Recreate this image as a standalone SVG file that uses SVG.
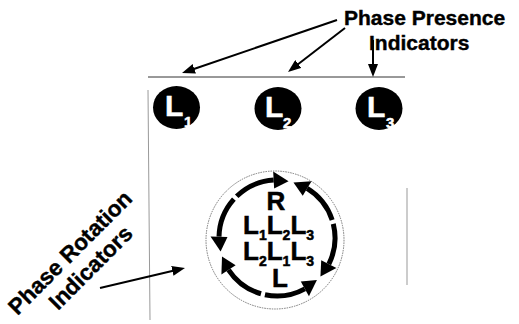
<svg xmlns="http://www.w3.org/2000/svg" width="519" height="324" viewBox="0 0 519 324">
<style>
.lbl{font-family:"Liberation Sans",Arial,sans-serif;font-weight:bold;fill:#000;stroke:#000;stroke-width:0.4}
.big{font-size:21px}
.rl{font-size:22.5px}
.ind{font-family:"Liberation Sans",Arial,sans-serif;font-weight:bold;fill:#fff;stroke:#fff;stroke-width:0.5}
.rot{font-family:"Liberation Sans",Arial,sans-serif;font-weight:bold;fill:#000;stroke:#000;stroke-width:0.5;font-size:26px}
.sub{font-size:14px}
.arr{stroke:#000;stroke-width:2;fill:none}
.arc{stroke:#000;stroke-width:5;fill:none}
.head{fill:#000}
</style>
<defs>
<marker id="ah" markerUnits="userSpaceOnUse" markerWidth="13" markerHeight="10" refX="2" refY="5" orient="auto">
<path d="M0,0 L13,5 L0,10 z" fill="#000"/>
</marker>
</defs>
<rect width="519" height="324" fill="#fff"/>
<g id="frame">
<line x1="148" y1="77" x2="405" y2="77" stroke="#333" stroke-width="1"/>
<line x1="148" y1="90" x2="150" y2="320" stroke="#999" stroke-width="1"/>
<line x1="407" y1="188" x2="407" y2="285" stroke="#999" stroke-width="1"/>
</g>
<g id="presence-label">
<text class="lbl big" x="344" y="25">Phase Presence</text>
<text class="lbl big" x="369" y="50">Indicators</text>
</g>
<g id="rotation-label">
<text class="lbl rl" text-anchor="middle" transform="translate(75.5,258) rotate(-45)">Phase Rotation</text>
<text class="lbl rl" text-anchor="middle" transform="translate(96,273) rotate(-45)">Indicators</text>
</g>
<g id="L1">
<ellipse cx="176.5" cy="107.5" rx="23.5" ry="21.5" fill="#000"/>
<text class="ind" x="165" y="116" font-size="30">L</text>
<text class="ind" x="184" y="127" font-size="15">1</text>
</g>
<g id="L2">
<ellipse cx="278" cy="108.5" rx="23.5" ry="21.5" fill="#000"/>
<text class="ind" x="265" y="117" font-size="30">L</text>
<text class="ind" x="283" y="128" font-size="15">2</text>
</g>
<g id="L3">
<ellipse cx="379" cy="108.5" rx="23.5" ry="21.5" fill="#000"/>
<text class="ind" x="367" y="117" font-size="30">L</text>
<text class="ind" x="386" y="128" font-size="15">3</text>
</g>
<g id="rotation-indicator">
<circle cx="275" cy="240" r="69" fill="none" stroke="#777" stroke-width="1" stroke-dasharray="1.5 1"/>
<path class="arc" d="M219.02,236.68 A58,58 0 0 1 233.90,199.19 M236.71,196.28 A58,58 0 0 1 273.66,180.10"/>
<polygon class="head" points="288.56,181.16 274.15,188.58 273.17,171.61"/>
<polygon class="head" points="220.60,251.54 227.51,236.88 210.52,236.49"/>
<path class="arc" d="M307.13,188.44 A58,58 0 0 1 332.16,220.08 M333.28,223.97 A58,58 0 0 1 328.82,264.06"/>
<polygon class="head" points="293.47,182.39 302.72,195.70 311.55,181.18"/>
<polygon class="head" points="320.44,276.43 321.22,260.24 336.41,267.88"/>
<path class="arc" d="M304.85,288.87 A58,58 0 0 1 264.94,294.73 M261.01,293.75 A58,58 0 0 1 228.52,269.84"/>
<polygon class="head" points="316.92,280.07 300.77,281.42 308.93,296.33"/>
<polygon class="head" points="222.00,256.40 235.63,265.18 221.42,274.51"/>
<text class="rot" x="276" y="210" text-anchor="middle">R</text>
<text class="rot" x="243" y="234">L<tspan class="sub" dy="6">1</tspan><tspan dy="-6">L</tspan><tspan class="sub" dy="6">2</tspan><tspan dy="-6">L</tspan><tspan class="sub" dy="6">3</tspan></text>
<text class="rot" x="243" y="260">L<tspan class="sub" dy="6">2</tspan><tspan dy="-6">L</tspan><tspan class="sub" dy="6">1</tspan><tspan dy="-6">L</tspan><tspan class="sub" dy="6">3</tspan></text>
<text class="rot" x="272" y="287">L</text>
</g>
<g id="connectors">
<line class="arr" x1="337" y1="20" x2="192.41" y2="69.44" marker-end="url(#ah)"/>
<line class="arr" x1="345" y1="28" x2="296.71" y2="65.28" marker-end="url(#ah)"/>
<line class="arr" x1="373" y1="40" x2="373" y2="66" marker-end="url(#ah)"/>
<line class="arr" x1="100" y1="288" x2="174.29" y2="270.52" marker-end="url(#ah)"/>
</g>
</svg>
